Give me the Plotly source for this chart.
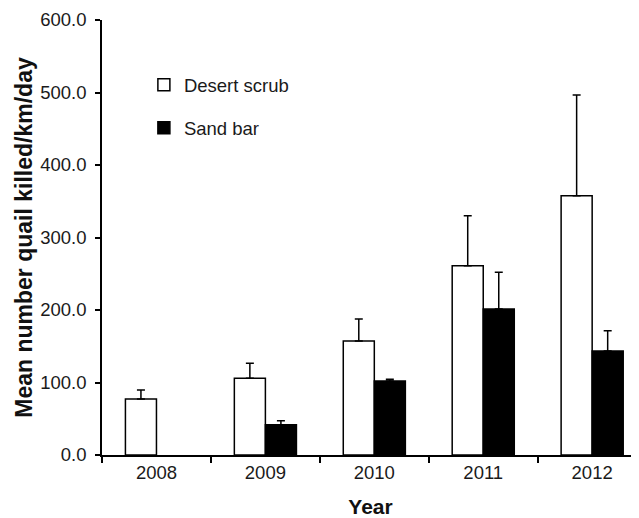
import plotly.graph_objects as go

years = ["2008", "2009", "2010", "2011", "2012"]
desert_scrub = [77.2, 105.8, 157.2, 261.0, 357.7]
desert_scrub_err = [12.4, 20.6, 30.4, 69.0, 138.8]
sand_bar = [None, 41.8, 102.0, 201.4, 143.4]
sand_bar_err = [None, 5.5, 2.4, 50.6, 28.1]
y_ticks = [0, 100, 200, 300, 400, 500, 600]

font = "Liberation Sans, Arial, sans-serif"

fig = go.Figure()
fig.add_trace(go.Bar(
    x=years, y=desert_scrub, name="Desert scrub", legendgroup="a",
    marker=dict(color="white", line=dict(color="black", width=1.5)),
    error_y=dict(type="data", array=desert_scrub_err, symmetric=False,
                 arrayminus=[0]*5, color="black", thickness=1.5, width=4),
))
fig.add_trace(go.Bar(
    x=years, y=sand_bar, name="Sand bar", legendgroup="b",
    marker=dict(color="black", line=dict(color="black", width=1.5)),
    error_y=dict(type="data", array=sand_bar_err, symmetric=False,
                 arrayminus=[0]*5, color="black", thickness=1.5, width=4),
))

fig.update_layout(
    width=631, height=510,
    margin=dict(l=94, r=0, t=12, b=63, autoexpand=False),
    paper_bgcolor="white", plot_bgcolor="white",
    barmode="group", bargap=0.43, bargroupgap=0,
    font=dict(family=font, size=18.5, color="#1a1a1a"),
    showlegend=True,
    legend=dict(x=0.078, y=0.894, xanchor="left", yanchor="top",
                tracegroupgap=16, font=dict(size=18.5, color="#1a1a1a"),
                bgcolor="rgba(0,0,0,0)", itemwidth=30),
    xaxis=dict(
        type="category", range=[-0.5, 4.43], automargin=False,
        showline=True, linecolor="black", linewidth=1.5,
        ticks="outside", tickson="boundaries", ticklen=6, tickcolor="black",
        tickwidth=1.5, showgrid=False, zeroline=False,
        title=dict(text="<b>Year</b>", font=dict(size=21, color="#111"), standoff=17),
    ),
    yaxis=dict(
        range=[0, 600], tickvals=y_ticks, tickformat=".1f", automargin=False,
        showline=True, linecolor="black", linewidth=1.5,
        ticks="outside", ticklen=5, tickcolor="black", tickwidth=1.5,
        ticklabelstandoff=5,
        showgrid=False, zeroline=False,
        title=dict(text="<b>Mean number quail killed/km/day</b>",
                   font=dict(size=23, color="#111"), standoff=1),
    ),
)

fig.write_html("out.html")
